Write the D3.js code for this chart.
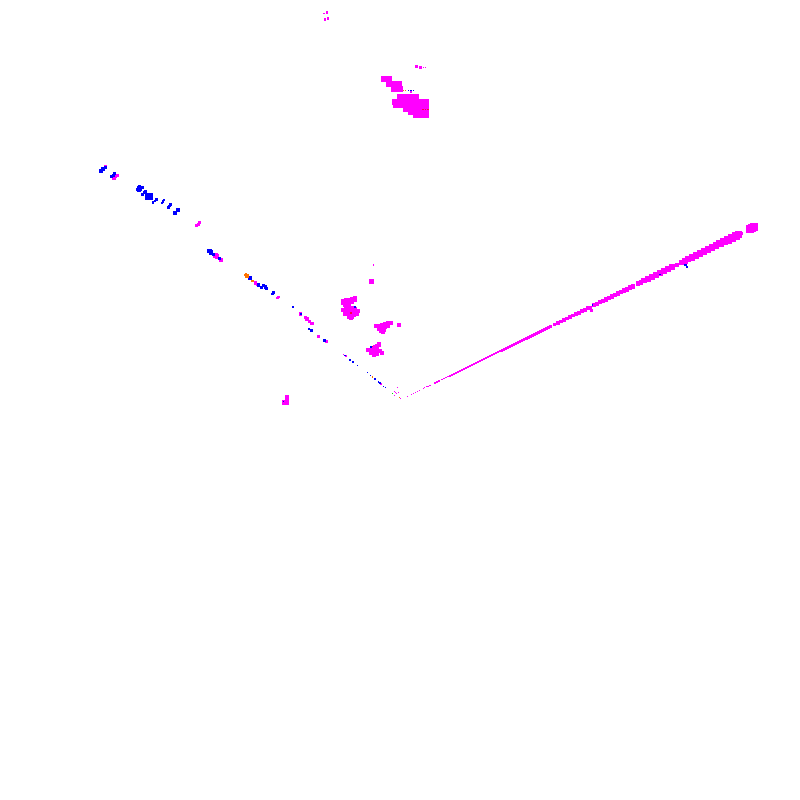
<!DOCTYPE html>
<html>
<head>
<meta charset="utf-8">
<script src="https://cdn.jsdelivr.net/npm/d3@7"></script>
<style>
  html, body { margin: 0; padding: 0; background: #fff; }
  svg { display: block; }
</style>
</head>
<body>
<div id="chart"></div>
<script>
// every point is [x, y, weight]
var rayThin = [
  [1.8,0.95,0.8],[2.9,1.4,0.8],[3.3,1.6,0.8],[3.8,1.9,0.8],[4.3,2.15,0.8],[4.8,2.4,0.8],[5.8,2.9,0.8],[6.2,3.05,0.9],[6.7,3.3,0.9],[7,3.45,0.9],[7.5,3.7,0.9],
  [8.75,4.3,1],[9.25,4.55,1],[9.75,4.8,1],[10.5,5.12,1.2],[11,5.37,1.2],[11.5,5.61,1.2],[12,5.86,1.2],[12.5,6.1,1.2],[13,6.34,1.2],
  [13.5,6.59,1.3],[14,6.83,1.3],[14.5,7.08,1.3],[15,7.32,1.3],[15.5,7.56,1.3],[16,7.81,1.3],[16.5,8.05,1.3],[17,8.3,1.3],[17.5,8.54,1.3],[18,8.78,1.4],
  [18.5,9.03,1.4],[19,9.27,1.4],[19.5,9.52,1.4],[20,9.76,1.4],[20.5,10,1.5],[21,10.25,1.5],[21.5,10.49,1.5],[22,10.74,1.5],[22.5,10.98,1.5],[23,11.22,1.5],
  [23.5,11.47,1.6],[24,11.71,1.6],[24.5,11.96,1.6],[25,12.2,1.6],[25.5,12.44,1.7],[26,12.69,1.7],[26.5,12.93,1.7],[27,13.18,1.7],[27.5,13.42,1.8],[28,13.66,1.8],
  [28.5,13.91,1.8],[29,14.15,1.8],[29.5,14.4,1.9],[30,14.64,1.9],[30.5,14.88,1.9],[31,15.13,1.9],[31.5,15.37,2],[32,15.62,2],[32.5,15.86,2],[33,16.1,2],
  [33.5,16.35,2],[34,16.59,2],[34.5,16.84,2],[35,17.08,2],[35.5,17.32,2],[36,17.57,2],[36.5,17.81,2],[37,18.06,2],[37.5,18.3,2],[38.5,18.79,2]
];
var rayMid = [
  [39.5,19.28,2.2],[40.25,19.64,2.2],[41,20.01,2.2],[41.75,20.37,2.3],[42.5,20.74,2.3],[43.25,21.11,2.4],[44,21.47,2.4],[44.75,21.84,2.5],[45.5,22.2,2.5],[46.25,22.57,2.5],
  [47,22.94,2.6],[48.5,23.67,2.6],[49.25,24.03,2.7],[50,24.4,2.7],[50.75,24.77,2.8],[51.5,25.13,2.8],[52.25,25.5,2.9],[53,25.86,2.9],[53.75,26.23,3],[54.5,26.6,3],
  [55.25,26.96,3],[56,27.33,3.1],[56.75,27.69,3.1],[57.5,28.06,3.2],[58.25,28.43,3.2],[59.5,29.04,3.3],[60.25,29.4,3.3],[61,29.77,3.4],[62,30.26,3.4],[63,30.74,3.5],
  [64,31.23,3.5],[65,31.72,3.6],[66,32.21,3.7],[67,32.7,3.8],[68,33.18,3.8]
];
var rayWide = [
  [69.2,33.77,3],[70.5,34.4,3.8],[71.25,34.77,4],[72,35.14,4],[73,35.62,4.2],[74,36.11,4.2],[75,36.6,4.3],[76,37.09,4.4],[77,37.58,4.5],[78,38.06,4.5],
  [79,38.55,4.6],[80,39.04,4.7],[81,39.53,4.8],[82,40.02,4.9],[83,40.5,5],[84,40.99,5],[84.6,41.3,4.6],[85.5,41.6,1.5],[87.5,42.7,5],[88,42.94,5],[88.5,43.19,5],
  [47.5,23.25,2],[47.9,22.5,2]
];
var armMagenta = [
  [-73.6,58.4,2],[-71.5,55.5,2.5],[-71.1,55.9,2.5],[-70.75,56.1,2.5],[-56,47,1.5],[-50.9,43.75,2],[-50.5,44,2],[-50.25,44.4,2],
  [-46.1,36.1,3],[-45.75,35.9,3],[-44.75,35,3],[-36.1,29.25,2.5],[-35.6,28.9,2.5],[-30.6,25.5,1.5],[-30.4,25.75,1.5],
  [-24.9,21.5,2.5],[-23.6,20.6,2],[-23.25,20.25,2.5],[-22.6,19.75,2],[-22,19.1,2.5],[-20.5,16,2],[-18.5,14.6,2],
  [-14.2,11.4,0.8],[-13.6,11,1.2],[-4.75,4,0.8]
];
var armBlue = [
  [-74.75,57.25,2.5],[-74.25,57.75,2.5],[-73.75,58.25,2],[-72.1,55.9,2],[-71.75,56.25,2],[-71.5,56.75,2],
  [-65.75,52.75,2],[-65.5,53.1,2],[-65.25,53.4,2],[-65.25,52.4,2.5],[-64.9,52.75,2.5],[-64.5,53.1,2.5],
  [-64.4,51.5,2],[-64,51.9,2],[-63.6,52.25,2],[-62.7,50.9,5],[-63.5,51,2],
  [-61.75,49.4,1.5],[-61.25,49.75,1.5],[-60.9,50.1,1.5],[-59.5,49.25,1.5],[-59.25,49.6,1.5],[-59,50,1.5],
  [-57.9,48.1,1.5],[-57.6,48.5,1.5],[-57.4,48.9,1.5],[-56.25,46.75,2.5],[-55.5,47.5,2.5],
  [-47.6,37.25,3],[-47.25,36.9,3],[-46.75,36.5,2],[-45.1,35.4,2],[-37.5,30.5,3],[-35.4,28.75,2.5],
  [-34.6,28.1,2.5],[-34.1,28.6,2.5],[-33.6,28.25,2.5],[-33.4,27.9,2.5],[-31.9,26.5,1.5],[-31.6,26.9,1.5],
  [-26.9,23.1,1],[-26.75,23.25,1],[-24.75,21.5,1.5],[-22.75,17.75,1.5],[-22.1,17.4,2.5],[-18.9,14.9,1.5],
  [-13.75,11.1,0.8],[-12.5,10.1,1.2],[-11.75,9.5,1.2],[-10.7,8.7,0.8],[-8.2,6.9,0.8],[-7.3,6.1,0.8],[-6.25,5.25,0.8],
  [-5.4,4.5,0.8],[-5,4.25,0.8],[-4.2,3.4,0.8],[-3.7,3.2,0.8]
];
var orangePoints = [
  [-38.9,31.25,1.2],[-38.5,31.5,1.2],[-38.2,31,2.5],[-36.9,29.75,1.5],[-6.8,5.75,0.8],[-0.2,0.6,0.8],[1.4,77.4,1],[0.9,77.4,1]
];
var greenPoints = [[-1.9,1.7,0.8]];
var centerBits = [
  [-0.7,3.2,0.8],[-1.3,2.1,0.8],[-1.1,1.8,0.8],[-0.4,1.9,0.8],[-0.8,1.6,0.8],[-1.4,1.1,0.8],[0.1,0.4,0.8]
];

// the big clump at the top
var topClump = [
  [-4,80.25,3.5],[-2.75,80.25,3.5],[-2.75,79,4.5],[-1.5,79,4.5],[-0.25,79,4.5],[-1.5,77.75,4],[0,77.75,4],
  [0,75.75,4],[1.25,75.75,4],[2.5,75.75,4],[4,75.75,4],
  [-1.25,74.5,4],[0,74.5,4],[1.25,74.5,4],[2.5,74.5,4],[3.75,74.5,4],[5,74.5,4],[6.5,74.5,4],
  [-1,73.75,4],[0.25,73.75,4],[1.5,73.75,4],[2.75,73.75,4],[4,73.75,4],[5.25,73.75,4],[6.5,73.75,4],
  [1.5,72.75,4],[2.75,72.75,4],[4,72.75,4],[5.25,72.75,4],[6.5,72.75,4],
  [2.75,72,4],[4,72,4],[5.25,72,4],[6.5,72,4],[4,71.25,4],[5.25,71.25,4],[6.4,71.25,4],
  [4.1,83.3,2],[5,83.2,2],[5.9,83.2,0.8],[6.4,83.2,0.8],[2.75,77,1],
  [-19,96.6,1],[-18.25,96.9,1.5],[-18.75,95.1,1.5],[-18,95.4,1.5]
];
var clumpA = [
  [-14.25,24.75,3],[-13.5,25,3],[-12.75,25,3],[-12,25,3],[-14.25,24.25,3],[-13.5,24.25,3],[-12.75,24.25,3],
  [-12,24.5,3],[-11.25,25.5,3],[-12,25.25,3],[-11.25,25,3],[-13,23.75,3],[-13.75,23.75,3]
];
var clumpB = [
  [-14.25,22.5,3],[-13.5,22.75,3],[-12.75,23.25,3],[-12,23,3],[-11.25,22.75,3],[-10.5,22.25,3],[-13.75,22,3],[-13,22.25,3],[-12.25,22.25,3],
  [-11.5,22,3],[-10.75,21.5,3],[-13.75,21.5,3],[-13,21.5,3],[-12.25,21.5,3],[-11.5,21.25,3],[-12.75,20.75,3],[-12,20.75,3],[-12.25,20.5,3]
];
var clumpC = [
  [-6,18.5,3],[-5.25,18.5,3],[-4.5,18.75,3],[-3.75,19,3],[-3,19.25,3],[-2.25,19.25,3],[-5.25,17.75,3],[-4.5,18,3],[-3.75,18.25,3],
  [-3,18.5,3],[-4.75,17.25,3],[-4,17.5,3],[-4.25,17,3],[-0.2,18.75,2.5]
];
var clumpD = [
  [-8,12.5,3],[-7.25,12.5,3],[-6.5,12.75,3],[-5.75,13,3],[-5,12.25,3],[-4.5,11.75,3],[-7.25,11.75,3],[-6.5,12,3],[-5.75,12.25,3],
  [-6.5,11.25,3],[-5.75,11.5,3],[-6.25,13.25,3],[-5.75,13.5,3],[-5.25,13.9,3],[-7,13,3]
];
var loosePoints = [
  [-7.1,29.6,3.5],[-6.6,33.7,1],[-28.2,0.75,2.5],[-28.2,0,2.5],[-28.2,-0.75,2.5],[-28.75,-0.6,3.5]
];
var blueExtras = [
  [2.1,77.4,1],[2.75,77.4,1],[3.4,77.4,1],[-11.25,23.2,1.5],[-7.2,13.3,1],[-29.1,-0.4,1],
  [48.1,23.75,1],[65,31.4,0.8],[71.4,33.75,1.5],[71.7,33.2,1.5]
];
var redPoints = [
  [5.75,72.7,0.8],[6.4,72.7,0.8],[7,72.7,0.8],[-12.3,21.8,1],[-6.9,13.3,0.8]
];

var magentaPoints = d3.merge([rayThin, rayMid, rayWide, armMagenta, centerBits, topClump, clumpA, clumpB, clumpC, clumpD, loosePoints]);
var bluePoints = d3.merge([armBlue, blueExtras]);

var series = [
  { name: "magenta", color: "#ff00ff", values: magentaPoints },
  { name: "blue", color: "#0000ff", values: bluePoints },
  { name: "orange", color: "#ff7300", values: orangePoints },
  { name: "green", color: "#00e000", values: greenPoints },
  { name: "red", color: "#ff0040", values: redPoints }
];

var width = 800, height = 800;

var x = d3.scaleLinear().domain([-100, 100]).range([0, width]);
var y = d3.scaleLinear().domain([-100, 100]).range([height, 0]);
var size = d3.scaleLinear().domain([0, 10]).range([0, 15]);

var svg = d3.select("#chart").append("svg")
    .attr("width", width)
    .attr("height", height);

svg.selectAll("g.series")
    .data(series)
  .enter().append("g")
    .attr("class", "series")
    .attr("fill", function(d) { return d.color; })
    .attr("shape-rendering", "crispEdges")
  .selectAll("rect")
    .data(function(d) { return d.values; })
  .enter().append("rect")
    .attr("x", function(d) { return x(d[0]) - size(d[2]) / 2; })
    .attr("y", function(d) { return y(d[1]) - size(d[2]) / 2; })
    .attr("width", function(d) { return size(d[2]); })
    .attr("height", function(d) { return size(d[2]); });
</script>
</body>
</html>
